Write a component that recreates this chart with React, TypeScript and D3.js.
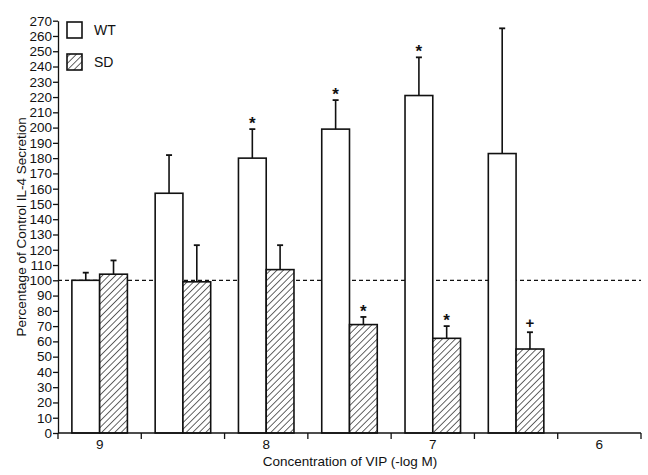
import React, { useEffect, useRef } from 'react';
import * as d3 from 'd3';

// x categories (-log M), only whole numbers get a label
const doses = ['9', '8.5', '8', '7.5', '7', '6.5', '6'];
const doseLabels = ['9', '8', '7', '6'];
const groups = ['WT', 'SD'];

// mean and mean+SE
const wtMean = [100, 157, 180, 199, 221, 183];
const wtTop = [105, 182, 199, 218, 246, 265];
const sdMean = [104, 99, 107, 71, 62, 55];
const sdTop = [113, 123, 123, 76, 70, 66];

// significance marks above the error bars
const wtMarks = ['', '', '*', '*', '*', ''];
const sdMarks = ['', '', '', '*', '*', '+'];

const yTicks = d3.range(0, 271, 10);

const App = () => {
  const svgRef = useRef<SVGSVGElement>(null);

  useEffect(() => {
    const width = 648, height = 475;
    const margin = { left: 58 };
    const font = 'Liberation Sans, Arial, sans-serif';
    const ink = '#111';

    const root = d3.select(svgRef.current)
      .attr('width', width)
      .attr('height', height);
    root.selectAll('*').remove();

    const defs = root.append('defs');
    const pat = defs.append('pattern')
      .attr('id', 'hatch')
      .attr('patternUnits', 'userSpaceOnUse')
      .attr('width', 4.6)
      .attr('height', 4.6)
      .attr('patternTransform', 'rotate(45)');
    pat.append('rect').attr('width', 4.6).attr('height', 4.6).attr('fill', 'white');
    pat.append('line')
      .attr('x1', 0).attr('y1', 0).attr('x2', 0).attr('y2', 4.6)
      .attr('stroke', ink).attr('stroke-width', 1.3);

    const x0 = d3.scaleBand().domain(doses).range([margin.left, 641]);
    const x1 = d3.scaleBand().domain(groups).range([0, x0.bandwidth()]).paddingOuter(0.5);
    const y = d3.scaleLinear().domain([0, 270]).range([433, 20.7]);

    const svg = root.append('g');

    // dashed 100% reference
    svg.append('line')
      .attr('x1', margin.left).attr('x2', 641)
      .attr('y1', y(100)).attr('y2', y(100))
      .attr('stroke', ink).attr('stroke-width', 1.3)
      .attr('stroke-dasharray', '4,3');

    const series = [
      { key: 'WT', mean: wtMean, top: wtTop, marks: wtMarks, fill: 'white' },
      { key: 'SD', mean: sdMean, top: sdTop, marks: sdMarks, fill: 'url(#hatch)' },
    ];

    series.forEach(s => {
      s.mean.forEach((v, i) => {
        const bx = x0(doses[i])! + x1(s.key)!;
        const bw = x1.bandwidth();
        const cx = bx + bw / 2;
        // error bar
        svg.append('line')
          .attr('x1', cx).attr('x2', cx)
          .attr('y1', y(v)).attr('y2', y(s.top[i]))
          .attr('stroke', ink).attr('stroke-width', 1.6);
        svg.append('line')
          .attr('x1', cx - 3).attr('x2', cx + 3)
          .attr('y1', y(s.top[i])).attr('y2', y(s.top[i]))
          .attr('stroke', ink).attr('stroke-width', 1.8);
        svg.append('rect')
          .attr('x', bx).attr('y', y(v))
          .attr('width', bw).attr('height', y(0) - y(v))
          .attr('fill', s.fill)
          .attr('stroke', ink).attr('stroke-width', 1.6);
        if (s.marks[i]) {
          svg.append('text')
            .attr('x', cx).attr('y', y(s.top[i]) - (s.marks[i] === '*' ? 0 : 4))
            .attr('text-anchor', 'middle')
            .attr('font-family', font)
            .attr('font-weight', 700)
            .attr('font-size', s.marks[i] === '*' ? 17 : 15)
            .attr('fill', ink)
            .text(s.marks[i]);
        }
      });
    });

    // y axis
    const yAxis = svg.append('g')
      .attr('transform', `translate(${margin.left},0)`)
      .call(d3.axisLeft(y).tickValues(yTicks).tickSize(5).tickPadding(1).tickSizeOuter(0));
    yAxis.selectAll('text')
      .style('font-family', font)
      .style('font-size', '13.5px')
      .style('fill', ink);
    yAxis.selectAll('line, path').attr('stroke', ink).attr('stroke-width', 1.3);

    // x axis: ticks at band edges, labels at band centres
    const xAxis = svg.append('g').attr('transform', `translate(0,${y(0)})`);
    xAxis.append('line')
      .attr('x1', margin.left).attr('x2', 641)
      .attr('stroke', ink).attr('stroke-width', 1.3);
    const edges = doses.map(d => x0(d)!).concat([x0(doses[doses.length - 1])! + x0.bandwidth()]);
    xAxis.selectAll('.edge')
      .data(edges)
      .join('line')
      .attr('x1', d => d).attr('x2', d => d)
      .attr('y1', 0).attr('y2', 6)
      .attr('stroke', ink).attr('stroke-width', 1.3);
    xAxis.selectAll('.lab')
      .data(doseLabels)
      .join('text')
      .attr('x', d => x0(d)! + x0.bandwidth() / 2)
      .attr('y', 16)
      .attr('text-anchor', 'middle')
      .attr('font-family', font)
      .attr('font-size', 13.5)
      .attr('fill', ink)
      .text(d => d);

    // axis titles
    svg.append('text')
      .attr('x', 350).attr('y', 466)
      .attr('text-anchor', 'middle')
      .attr('font-family', font)
      .attr('font-size', 13.5)
      .attr('fill', ink)
      .text('Concentration of VIP (-log M)');
    svg.append('text')
      .attr('transform', `translate(26,${y(135)}) rotate(-90)`)
      .attr('text-anchor', 'middle')
      .attr('font-family', font)
      .attr('font-size', 13.5)
      .attr('fill', ink)
      .text('Percentage of Control IL-4 Secretion');

    // legend
    const legend = svg.append('g');
    groups.forEach((g, i) => {
      const ly = 22 + i * 32;
      legend.append('rect')
        .attr('x', 67).attr('y', ly)
        .attr('width', 15).attr('height', 16)
        .attr('fill', i === 0 ? 'white' : 'url(#hatch)')
        .attr('stroke', ink).attr('stroke-width', 1.6);
      legend.append('text')
        .attr('x', 94).attr('y', ly + 13)
        .attr('font-family', font)
        .attr('font-size', 14)
        .attr('fill', ink)
        .text(g);
    });
  }, []);

  return <svg ref={svgRef} style={{ position: 'absolute', left: 0, top: 0 }}></svg>;
};

export default App;
